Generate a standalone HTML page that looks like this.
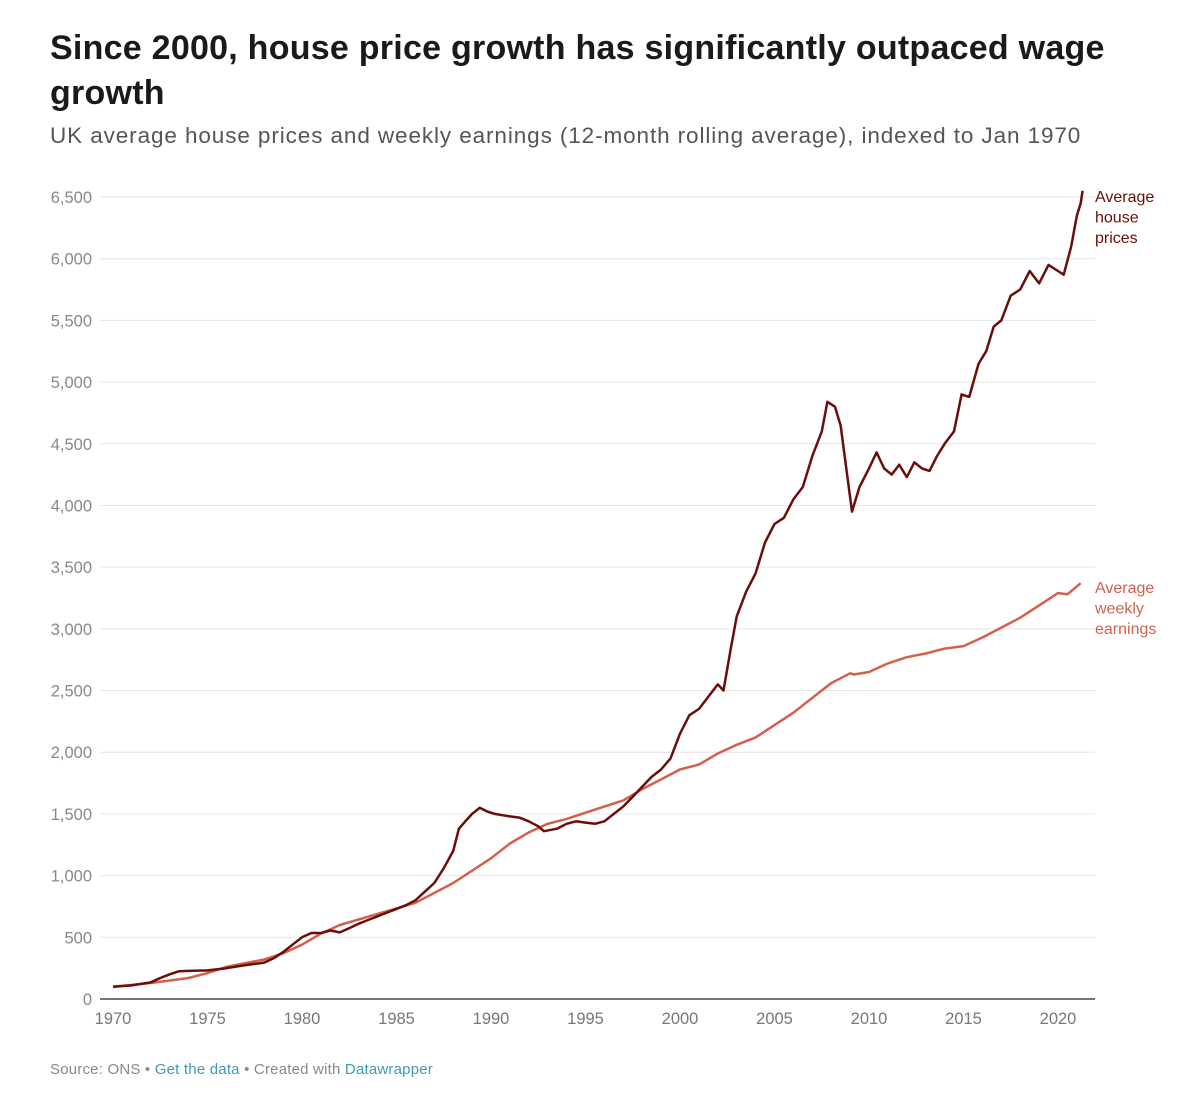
<!DOCTYPE html>
<html><head><meta charset="utf-8"><style>
body{margin:0;background:#fff;width:1200px;height:1095px;overflow:hidden;font-family:"Liberation Sans",sans-serif}
h1{position:absolute;left:50px;top:26px;margin:0;width:1130px;font-size:34px;line-height:45px;font-weight:bold;color:#1a1a1a;letter-spacing:0.25px}
.sub{position:absolute;left:50px;top:123px;font-size:22.5px;color:#555;letter-spacing:0.9px;white-space:nowrap}
.foot{position:absolute;left:50px;top:1061px;font-size:15px;color:#888;letter-spacing:0.2px}
.foot a{color:#3e9bb3;text-decoration:none}
svg{position:absolute;left:0;top:0}
</style></head><body>
<h1>Since 2000, house price growth has significantly outpaced wage growth</h1>
<div class="sub">UK average house prices and weekly earnings (12-month rolling average), indexed to Jan 1970</div>
<svg id="chart" width="1200" height="1095"></svg>
<div class="foot">Source: ONS • <a>Get the data</a> • Created with <a>Datawrapper</a></div>
<script>
const yTicks=[0,500,1000,1500,2000,2500,3000,3500,4000,4500,5000,5500,6000,6500];
const xTicks=[1970,1975,1980,1985,1990,1995,2000,2005,2010,2015,2020];
const houseYears=[1970,1971,1972,1972.5,1973,1973.5,1974,1975,1976,1977,1978,1978.5,1979,1979.5,1980,1980.5,1981,1981.5,1982,1982.5,1983,1983.5,1984,1984.5,1985,1985.5,1986,1986.5,1987,1987.5,1988,1988.3,1988.7,1989,1989.4,1989.8,1990.2,1990.6,1991,1991.5,1992,1992.5,1992.8,1993.5,1994,1994.5,1995,1995.5,1996,1996.5,1997,1997.5,1998,1998.5,1999,1999.5,2000,2000.5,2001,2001.5,2002,2002.3,2002.7,2003,2003.5,2004,2004.5,2005,2005.5,2006,2006.5,2007,2007.5,2007.8,2008.2,2008.5,2008.8,2009.1,2009.5,2010,2010.4,2010.8,2011.2,2011.6,2012,2012.4,2012.8,2013.2,2013.6,2014,2014.5,2014.9,2015.3,2015.8,2016.2,2016.6,2017,2017.5,2018,2018.5,2019,2019.5,2020,2020.3,2020.7,2021,2021.2,2021.3];
const houseValues=[100,110,135,170,200,225,228,232,250,275,295,330,380,440,500,535,535,555,540,575,610,640,670,700,730,760,800,870,940,1060,1200,1380,1450,1500,1550,1520,1500,1490,1480,1470,1440,1400,1360,1380,1420,1440,1430,1420,1440,1500,1560,1640,1720,1800,1860,1950,2150,2300,2350,2450,2550,2500,2850,3100,3300,3450,3700,3850,3900,4050,4150,4400,4600,4840,4800,4650,4300,3950,4150,4300,4430,4300,4250,4330,4230,4350,4300,4280,4400,4500,4600,4900,4880,5150,5250,5450,5500,5700,5750,5900,5800,5950,5900,5870,6100,6350,6450,6550];
const earnYears=[1970,1972,1974,1975,1976,1978,1979,1980,1981,1982,1984,1986,1988,1990,1991,1992,1993,1994,1995,1996,1997,1998,1999,2000,2001,2002,2003,2004,2005,2006,2007,2008,2009,2009.2,2010,2011,2012,2013,2014,2015,2016,2017,2018,2019,2020,2020.5,2021.2];
const earnValues=[100,130,170,210,260,320,370,440,530,600,690,780,940,1140,1260,1350,1420,1460,1510,1560,1610,1700,1780,1860,1900,1990,2060,2120,2220,2320,2440,2560,2640,2630,2650,2720,2770,2800,2840,2860,2930,3010,3090,3190,3290,3280,3370];
const NS="http://www.w3.org/2000/svg";
const svg=document.getElementById('chart');
const x=yr=>113+(yr-1970)*18.9;
const y=v=>999-v*(802/6500);
function mk(tag,attrs){const e=document.createElementNS(NS,tag);for(const k in attrs)e.setAttribute(k,attrs[k]);svg.appendChild(e);return e;}
yTicks.forEach(t=>{
  if(t>0){const g=mk('line',{x1:100,x2:1095,y1:y(t),y2:y(t),stroke:'#e6e6e6','stroke-width':1});
  
  }
  const l=mk('text',{x:92,y:y(t)+6,'text-anchor':'end','font-size':16.5,fill:'#888','font-family':'Liberation Sans, sans-serif'});
  l.textContent=t.toLocaleString('en-US');
  
  
});
const ax=mk('line',{x1:100,x2:1095,y1:999,y2:999,stroke:'#777','stroke-width':2});


xTicks.forEach(t=>{
  const l=mk('text',{x:x(t),y:1024,'text-anchor':'middle','font-size':16.5,fill:'#777','font-family':'Liberation Sans, sans-serif'});
  l.textContent=t;
  
  
});
function path(xs,vs){return xs.map((a,i)=>(i?'L':'M')+x(a).toFixed(1)+','+y(vs[i]).toFixed(1)).join('');}
const e=mk('path',{d:path(earnYears,earnValues),fill:'none',stroke:'#d4604b','stroke-width':2.5,'stroke-linejoin':'round'});


const h=mk('path',{d:path(houseYears,houseValues),fill:'none',stroke:'#6b0d08','stroke-width':2.5,'stroke-linejoin':'round'});


function label(lines,top,color,name){lines.forEach((s,i)=>{const t=mk('text',{x:1095,y:top+i*20.5,'font-size':16,fill:color,'font-family':'Liberation Sans, sans-serif'});t.textContent=s;

});}
label(['Average','house','prices'],202,'#6b0d08','house-price-label');
label(['Average','weekly','earnings'],593,'#d4604b','earnings-label');
</script>
</body></html>
